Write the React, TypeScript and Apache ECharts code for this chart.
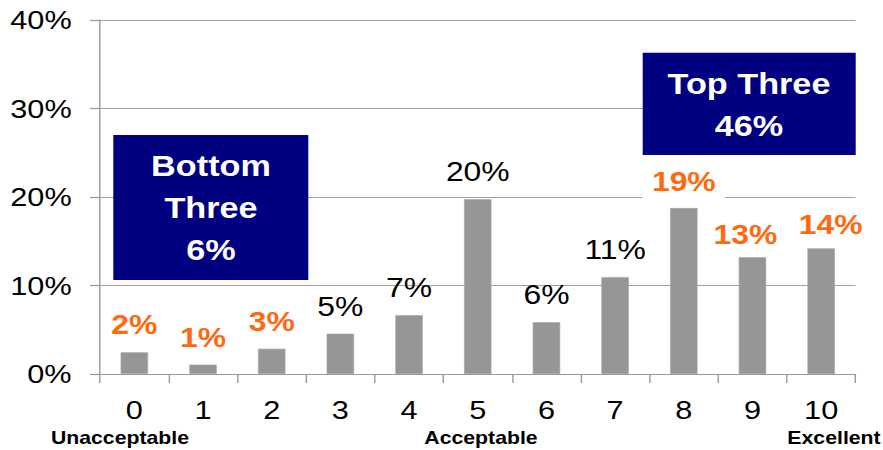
import React, { useEffect, useRef } from "react";
import * as echarts from "echarts";

// ---- data ----
const categories = ["0", "1", "2", "3", "4", "5", "6", "7", "8", "9", "10"];
const values = [2.45, 1.05, 2.85, 4.55, 6.65, 19.75, 5.85, 10.95, 18.75, 13.2, 14.2];
const labelTexts = ["2%", "1%", "3%", "5%", "7%", "20%", "6%", "11%", "19%", "13%", "14%"];
const highlighted = [0, 1, 2, 8, 9, 10];
const yTicks = [0, 10, 20, 30, 40];
const bottomBoxLines = ["Bottom", "Three", "6%"];
const topBoxLines = ["Top Three", "46%"];
const scaleTexts = ["Unacceptable", "Acceptable", "Excellent"];

// ---- layout (the original is horizontally stretched) ----
const S = 1.1805;
const W = 748;
const H = 450;
const px = (x: number) => x / S;
const FONT = "'Liberation Sans', Arial, sans-serif";
const ORANGE = "#ff6a10";
const NAVY = "#000080";

const labelTweaks: Record<number, any> = {
  8: { backgroundColor: "#ffffff", padding: [2, 8, 5, 8], distance: 8 },
  9: { offset: [-6, 5] },
  10: { offset: [8, 4] },
};

export default function App() {
  const ref = useRef<HTMLDivElement>(null);
  useEffect(() => {
    if (!ref.current) return;
    const chart = echarts.init(ref.current, undefined, { renderer: "svg" });
    const data = values.map((v, i) => {
      const hi = highlighted.includes(i);
      return {
        value: v,
        label: {
          show: true,
          position: "top",
          distance: 14,
          formatter: labelTexts[i],
          fontFamily: FONT,
          fontSize: 27,
          fontWeight: hi ? "bold" : "normal",
          color: hi ? ORANGE : "#000000",
          ...(labelTweaks[i] || {}),
        },
      };
    });
    chart.setOption({
      animation: false,
      backgroundColor: "#ffffff",
      grid: { left: px(100), right: W - px(855.5), top: 20, bottom: H - 374 },
      xAxis: {
        type: "category",
        data: categories,
        boundaryGap: true,
        axisLine: { show: true, lineStyle: { color: "#999999", width: 1.2 } },
        axisTick: { show: true, length: 9, lineStyle: { color: "#999999", width: 1.2 } },
        axisLabel: { fontFamily: FONT, fontSize: 26, color: "#000000", margin: 23 },
        splitLine: { show: false },
      },
      yAxis: {
        type: "value",
        min: yTicks[0],
        max: yTicks[yTicks.length - 1],
        interval: 10,
        axisLine: { show: true, lineStyle: { color: "#999999", width: 1.2 } },
        axisTick: { show: true, length: px(10), lineStyle: { color: "#999999", width: 1.2 } },
        axisLabel: {
          fontFamily: FONT,
          fontSize: 26,
          color: "#000000",
          margin: 24,
          formatter: "{value}%",
        },
        splitLine: { show: true, lineStyle: { color: "#a0a0a0", width: 1.2 } },
      },
      series: [
        {
          type: "bar",
          data,
          barWidth: px(27.5),
          itemStyle: { color: "#969696", borderColor: "#a8a8a8", borderWidth: 0.6 },
        },
      ],
      graphic: [
        {
          type: "rect",
          shape: { x: px(113.3), y: 135, width: px(195), height: 145 },
          style: { fill: NAVY },
          z: 10,
        },
        {
          type: "text",
          x: px(211),
          y: 208,
          z: 11,
          style: {
            text: bottomBoxLines.join("\n"),
            fill: "#ffffff",
            fontFamily: FONT,
            fontSize: 29,
            fontWeight: "bold",
            lineHeight: 42,
            align: "center",
            verticalAlign: "middle",
            textAlign: "center",
            textVerticalAlign: "middle",
          },
        },
        {
          type: "rect",
          shape: { x: px(642.7), y: 52.7, width: px(213), height: 102.3 },
          style: { fill: NAVY },
          z: 10,
        },
        {
          type: "text",
          x: px(749),
          y: 105,
          z: 11,
          style: {
            text: topBoxLines.join("\n"),
            fill: "#ffffff",
            fontFamily: FONT,
            fontSize: 29,
            fontWeight: "bold",
            lineHeight: 42,
            align: "center",
            verticalAlign: "middle",
            textAlign: "center",
            textVerticalAlign: "middle",
          },
        },
        ...[120, 481, 834].map((cx, i) => ({
          type: "text",
          x: px(cx),
          y: 438,
          z: 11,
          style: {
            text: scaleTexts[i],
            fill: "#000000",
            fontFamily: FONT,
            fontSize: 18,
            fontWeight: "bold",
            align: "center",
            verticalAlign: "middle",
            textAlign: "center",
            textVerticalAlign: "middle",
          },
        })),
      ],
    });
    return () => chart.dispose();
  }, []);
  return (
    <div
      style={{
        position: "fixed",
        left: 0,
        top: 0,
        width: 883,
        height: H,
        overflow: "hidden",
        background: "#ffffff",
      }}
    >
      <div
        ref={ref}
        style={{ width: W, height: H, transform: `scaleX(${S})`, transformOrigin: "0 0" }}
      />
    </div>
  );
}
